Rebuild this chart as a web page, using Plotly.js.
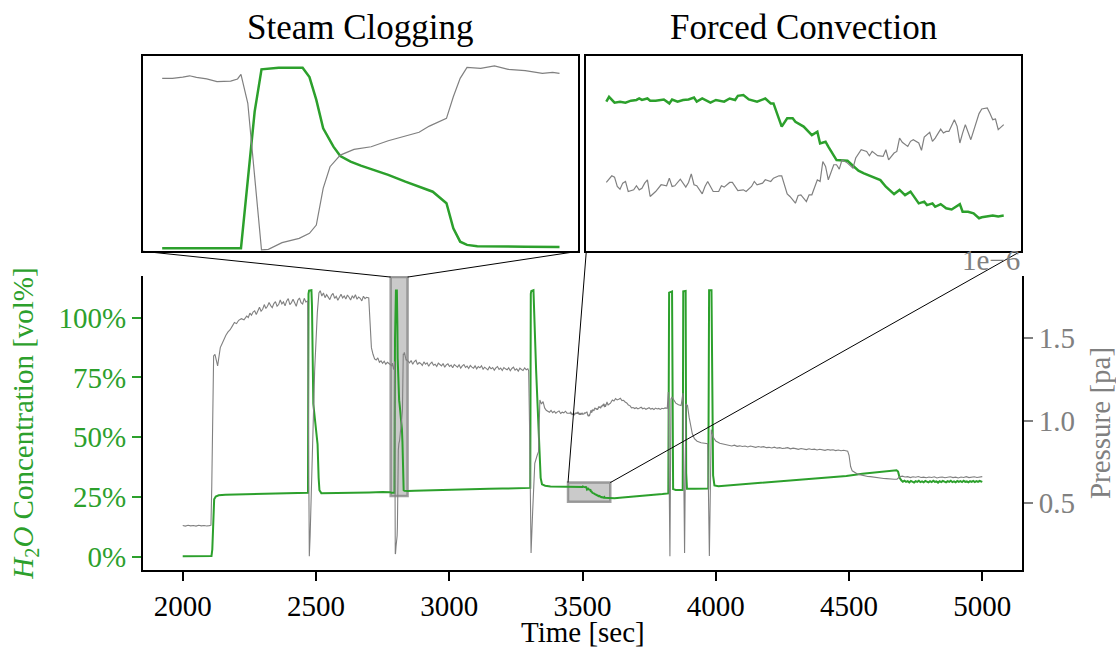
<!DOCTYPE html>
<html>
<head>
<meta charset="utf-8">
<script src="https://cdn.plot.ly/plotly-3.0.1.min.js"></script>
<style>
  html, body { margin: 0; padding: 0; background: #fff; }
  #chart { width: 1116px; height: 650px; }
</style>
</head>
<body>
<div id="chart"></div>
<script>
// Measurement log: [time in s, value]. H2O as volume fraction, pressure in units of 1e-6 Pa.
const h2oRun1 = [[2000,0.002],[2050,0.002],[2100,0.003],[2108,0.003],[2111,0.030],[2115,0.210],[2118,0.240],[2124,0.252],[2135,0.257],[2160,0.259],[2200,0.260],[2250,0.262],[2300,0.263],[2350,0.264],[2400,0.266],[2450,0.267],[2470,0.268],[2472,1.100],[2474,1.113],[2483,1.115],[2485,1.050],[2490,0.640],[2500,0.540],[2506,0.470],[2510,0.330],[2513,0.278],[2520,0.266],[2550,0.266],[2600,0.267],[2650,0.268],[2700,0.269],[2750,0.271],[2770,0.272],[2778,0.270]];
const h2oClogging = [[2783,0.268],[2787,0.268],[2791,0.267],[2794.5,0.268],[2796.5,0.908],[2797.5,1.106],[2800,1.114],[2803.5,1.114],[2804.5,1.070],[2805.5,0.963],[2806.5,0.830],[2808,0.744],[2809,0.700],[2810.5,0.674],[2812,0.655],[2814,0.635],[2816,0.612],[2818.5,0.580],[2820.5,0.556],[2822.5,0.533],[2824.5,0.479],[2825.5,0.362],[2826.5,0.299],[2827.5,0.284],[2829,0.278],[2832,0.276],[2836,0.275],[2841,0.274]];
const h2oRun2 = [[2845,0.275],[2870,0.276],[2900,0.277],[2950,0.278],[3000,0.280],[3050,0.281],[3090,0.282],[3095,0.285],[3100,0.283],[3150,0.284],[3200,0.285],[3250,0.287],[3304,0.288],[3306,1.100],[3308,1.112],[3316,1.115],[3320,0.950],[3326,0.780],[3332,0.620],[3338,0.430],[3343,0.330],[3348,0.303],[3360,0.297],[3380,0.294],[3420,0.293],[3445,0.292]];
const h2oConvection = [[3453,0.2912],[3454,0.2932],[3456,0.2908],[3458,0.2912],[3460,0.2908],[3462,0.2916],[3464,0.2919],[3465,0.2925],[3466,0.2919],[3468,0.2925],[3469,0.2916],[3471,0.2916],[3474,0.2921],[3476,0.2905],[3477,0.2921],[3479,0.2912],[3481,0.2919],[3483,0.2921],[3485,0.2929],[3486,0.2912],[3488,0.2925],[3491,0.2908],[3493,0.2919],[3496,0.2912],[3498,0.2925],[3500,0.2919],[3501,0.2936],[3503,0.2939],[3505,0.2921],[3508,0.2912],[3511,0.2925],[3513,0.2905],[3514,0.2905],[3517,0.2810],[3519,0.2844],[3521,0.2844],[3522,0.2830],[3525,0.2810],[3528,0.2775],[3530,0.2789],[3531,0.2741],[3533,0.2748],[3534,0.2728],[3537,0.2673],[3541,0.2670],[3544,0.2639],[3545,0.2630],[3547,0.2619],[3550,0.2605],[3553,0.2591],[3555,0.2564],[3558,0.2534],[3560,0.2551],[3562,0.2530],[3564,0.2544],[3567,0.2496],[3569,0.2503],[3570,0.2489],[3572,0.2496],[3573,0.2482],[3575,0.2493],[3577,0.2476],[3579,0.2471],[3582,0.2493],[3583,0.2462],[3585,0.2462],[3587,0.2455],[3589,0.2435],[3590,0.2439],[3592,0.2442],[3594,0.2446],[3596,0.2442],[3598,0.2446]];
const h2oRun3 = [[3605,0.2446],[3620,0.245],[3650,0.248],[3700,0.252],[3750,0.256],[3800,0.262],[3822,0.265],[3825,1.105],[3836,1.110],[3838,0.400],[3840,0.283],[3850,0.279],[3876,0.279],[3878,1.110],[3887,1.112],[3889,0.350],[3892,0.284],[3920,0.284],[3950,0.285],[3972,0.285],[3975,1.115],[3984,1.115],[3990,0.340],[3995,0.298],[4010,0.295],[4100,0.303],[4200,0.313],[4300,0.322],[4400,0.330],[4490,0.338],[4550,0.347],[4600,0.353],[4640,0.357],[4665,0.360],[4678,0.362],[4684,0.356],[4690,0.330],[4696,0.320],[4702,0.314],[4708,0.318],[4714,0.313],[4720,0.316],[4726,0.311],[4732,0.317],[4738,0.314],[4744,0.310],[4750,0.316],[4756,0.313],[4762,0.318],[4768,0.312],[4774,0.315],[4780,0.311],[4786,0.317],[4792,0.314],[4798,0.311],[4804,0.316],[4810,0.312],[4816,0.318],[4822,0.313],[4828,0.315],[4834,0.310],[4840,0.316],[4846,0.312],[4852,0.317],[4858,0.314],[4864,0.311],[4870,0.316],[4876,0.313],[4882,0.318],[4888,0.312],[4894,0.315],[4900,0.311],[4906,0.317],[4912,0.313],[4918,0.316],[4924,0.312],[4930,0.318],[4936,0.313],[4942,0.315],[4948,0.311],[4954,0.316],[4960,0.313],[4966,0.317],[4972,0.312],[4978,0.316],[4984,0.313],[4990,0.317],[4996,0.314],[5000,0.313]];

const pressureRun1 = [[2000,0.366],[2010,0.362],[2020,0.367],[2030,0.364],[2040,0.366],[2050,0.362],[2060,0.367],[2070,0.364],[2080,0.366],[2090,0.363],[2100,0.365],[2106,0.368],[2109,0.600],[2113,1.150],[2116,1.390],[2121,1.400],[2126,1.360],[2131,1.330],[2136,1.385],[2141,1.440],[2148,1.465],[2155,1.495],[2162,1.515],[2170,1.535],[2178,1.548],[2186,1.570],[2194,1.592],[2202,1.585],[2210,1.605],[2220,1.615],[2230,1.608],[2240,1.630],[2246,1.622],[2252,1.648],[2258,1.636],[2264,1.655],[2270,1.662],[2276,1.640],[2282,1.668],[2288,1.684],[2294,1.660],[2300,1.672],[2306,1.700],[2312,1.676],[2318,1.690],[2324,1.712],[2330,1.694],[2336,1.682],[2342,1.706],[2348,1.718],[2354,1.690],[2360,1.700],[2366,1.728],[2372,1.704],[2378,1.716],[2384,1.692],[2390,1.722],[2396,1.736],[2402,1.700],[2408,1.712],[2414,1.732],[2420,1.706],[2426,1.690],[2432,1.726],[2438,1.740],[2444,1.712],[2450,1.704],[2456,1.738],[2462,1.716],[2469,1.722],[2472,1.000],[2475,0.180],[2478,0.300],[2485,0.750],[2495,1.300],[2505,1.650],[2511,1.770],[2516,1.784],[2522,1.752],[2528,1.770],[2534,1.742],[2540,1.760],[2546,1.748],[2552,1.730],[2558,1.756],[2564,1.768],[2570,1.738],[2576,1.750],[2582,1.726],[2588,1.748],[2594,1.762],[2600,1.740],[2606,1.752],[2612,1.734],[2618,1.758],[2624,1.744],[2630,1.728],[2636,1.752],[2642,1.740],[2648,1.760],[2654,1.732],[2660,1.746],[2666,1.738],[2672,1.722],[2678,1.750],[2684,1.736],[2690,1.744],[2698,1.740],[2702,1.600],[2708,1.440],[2714,1.400],[2720,1.372],[2726,1.365],[2732,1.378],[2738,1.352],[2744,1.360],[2750,1.345],[2756,1.358],[2762,1.340],[2768,1.352],[2774,1.344],[2778,1.336]];
const pressureClogging = [[2783,1.330],[2784.5,1.330],[2786,1.338],[2787,1.347],[2788,1.336],[2789.5,1.326],[2791,1.308],[2793,1.312],[2794,1.326],[2794.5,1.357],[2795.5,1.165],[2797.5,0.194],[2798.5,0.198],[2800.5,0.242],[2803,0.271],[2804.5,0.304],[2805.5,0.359],[2806.5,0.602],[2807.5,0.745],[2809,0.822],[2811,0.860],[2813.5,0.877],[2816,0.917],[2817.5,0.937],[2820.5,0.973],[2822,1.014],[2824.5,1.065],[2825.5,1.208],[2826.5,1.330],[2827.5,1.403],[2829.5,1.396],[2831.5,1.412],[2833.5,1.390],[2836,1.381],[2838.5,1.363],[2840,1.370],[2841,1.363]];
const pressureRun2 = [[2845,1.360],[2851,1.348],[2857,1.362],[2863,1.340],[2869,1.356],[2875,1.364],[2881,1.338],[2887,1.350],[2893,1.344],[2899,1.332],[2905,1.354],[2911,1.340],[2917,1.348],[2923,1.328],[2929,1.344],[2935,1.352],[2941,1.334],[2947,1.340],[2953,1.326],[2959,1.346],[2965,1.338],[2971,1.330],[2977,1.344],[2983,1.322],[2989,1.336],[2995,1.342],[3001,1.326],[3007,1.334],[3013,1.318],[3019,1.338],[3025,1.330],[3031,1.322],[3037,1.336],[3043,1.316],[3049,1.330],[3055,1.338],[3061,1.320],[3067,1.328],[3073,1.314],[3079,1.332],[3085,1.322],[3091,1.316],[3097,1.330],[3103,1.312],[3109,1.326],[3115,1.318],[3121,1.330],[3127,1.310],[3133,1.322],[3139,1.316],[3145,1.306],[3151,1.324],[3157,1.312],[3163,1.320],[3169,1.304],[3175,1.318],[3181,1.326],[3187,1.308],[3193,1.316],[3199,1.302],[3205,1.320],[3211,1.312],[3217,1.306],[3223,1.318],[3229,1.300],[3235,1.314],[3241,1.322],[3247,1.304],[3253,1.312],[3259,1.298],[3265,1.316],[3271,1.308],[3277,1.302],[3283,1.318],[3289,1.306],[3295,1.312],[3298,1.300],[3302,0.900],[3307,0.200],[3313,0.450],[3321,0.742],[3330,0.790],[3335,0.812],[3340,1.124],[3346,1.100],[3352,1.114],[3358,1.076],[3364,1.062],[3370,1.058],[3376,1.050],[3382,1.061],[3388,1.047],[3394,1.056],[3400,1.044],[3406,1.052],[3412,1.058],[3418,1.042],[3424,1.050],[3430,1.046],[3436,1.056],[3442,1.044],[3447,1.046]];
const pressureConvection = [[3453,1.0443],[3455,1.0503],[3456,1.0491],[3457,1.0407],[3458,1.0382],[3459,1.0437],[3460,1.0452],[3461,1.0361],[3463,1.0376],[3464,1.0413],[3465,1.0376],[3466,1.0391],[3467,1.0437],[3468,1.0467],[3469,1.0316],[3471,1.0361],[3473,1.0422],[3475,1.0413],[3476,1.0482],[3477,1.0407],[3478,1.0413],[3480,1.0473],[3482,1.0401],[3483,1.0443],[3484,1.0521],[3485,1.0422],[3486,1.0413],[3488,1.0340],[3489,1.0407],[3490,1.0452],[3492,1.0361],[3494,1.0361],[3495,1.0413],[3496,1.0401],[3498,1.0443],[3499,1.0443],[3501,1.0370],[3503,1.0376],[3504,1.0361],[3506,1.0407],[3507,1.0452],[3508,1.0422],[3510,1.0437],[3511,1.0467],[3513,1.0452],[3514,1.0482],[3516,1.0503],[3517,1.0503],[3519,1.0340],[3520,1.0316],[3522,1.0255],[3523,1.0325],[3524,1.0331],[3526,1.0270],[3527,1.0331],[3528,1.0331],[3530,1.0467],[3531,1.0452],[3532,1.0633],[3533,1.0588],[3534,1.0467],[3536,1.0603],[3537,1.0603],[3538,1.0564],[3539,1.0648],[3541,1.0618],[3543,1.0573],[3544,1.0664],[3546,1.0739],[3548,1.0724],[3549,1.0685],[3550,1.0724],[3552,1.0685],[3554,1.0679],[3555,1.0739],[3556,1.0648],[3558,1.0709],[3559,1.0724],[3560,1.0845],[3561,1.0806],[3563,1.0769],[3564,1.0815],[3565,1.0830],[3567,1.0800],[3568,1.0733],[3569,1.0854],[3571,1.0896],[3572,1.0815],[3573,1.0845],[3575,1.0926],[3576,1.0890],[3577,1.0905],[3578,1.0905],[3580,1.1011],[3581,1.0951],[3582,1.0800],[3583,1.0890],[3584,1.0966],[3586,1.0830],[3588,1.0987],[3589,1.1066],[3590,1.1108],[3592,1.1117],[3593,1.1066],[3594,1.1011],[3595,1.1017],[3596,1.0920],[3598,1.0966]];
const pressureRun3 = [[3605,1.105],[3612,1.124],[3618,1.118],[3624,1.132],[3630,1.124],[3636,1.128],[3642,1.134],[3648,1.120],[3654,1.122],[3660,1.112],[3666,1.106],[3672,1.094],[3678,1.090],[3684,1.076],[3690,1.078],[3696,1.072],[3702,1.077],[3708,1.070],[3714,1.074],[3720,1.080],[3726,1.071],[3732,1.075],[3738,1.068],[3744,1.074],[3750,1.077],[3756,1.069],[3762,1.073],[3768,1.066],[3774,1.075],[3780,1.070],[3786,1.073],[3792,1.067],[3798,1.074],[3804,1.071],[3810,1.076],[3818,1.074],[3822,1.172],[3828,0.180],[3832,1.130],[3836,1.140],[3842,1.125],[3850,1.105],[3860,1.095],[3870,1.090],[3877,1.165],[3883,0.200],[3888,1.100],[3894,1.090],[3900,1.020],[3906,0.960],[3912,0.920],[3920,0.890],[3930,0.875],[3945,0.866],[3960,0.862],[3970,0.860],[3976,0.182],[3983,0.945],[3990,0.900],[4000,0.876],[4015,0.862],[4030,0.856],[4040,0.852],[4050,0.849],[4060,0.846],[4070,0.851],[4080,0.844],[4090,0.847],[4100,0.843],[4110,0.846],[4120,0.840],[4130,0.846],[4140,0.841],[4150,0.838],[4160,0.843],[4170,0.839],[4180,0.842],[4190,0.836],[4200,0.838],[4210,0.834],[4220,0.839],[4230,0.833],[4240,0.836],[4250,0.831],[4260,0.833],[4270,0.836],[4280,0.829],[4290,0.833],[4300,0.830],[4310,0.826],[4320,0.831],[4330,0.828],[4340,0.824],[4350,0.829],[4360,0.825],[4370,0.827],[4380,0.822],[4390,0.826],[4400,0.823],[4410,0.820],[4420,0.825],[4430,0.821],[4440,0.823],[4450,0.818],[4460,0.822],[4470,0.817],[4480,0.820],[4490,0.818],[4495,0.815],[4500,0.790],[4506,0.722],[4512,0.696],[4520,0.686],[4530,0.678],[4540,0.673],[4550,0.668],[4560,0.666],[4570,0.662],[4580,0.661],[4590,0.658],[4600,0.657],[4610,0.654],[4620,0.653],[4630,0.650],[4640,0.649],[4650,0.647],[4660,0.646],[4670,0.645],[4680,0.646],[4690,0.660],[4700,0.664],[4710,0.659],[4720,0.661],[4730,0.655],[4740,0.660],[4750,0.657],[4760,0.662],[4770,0.656],[4780,0.658],[4790,0.654],[4800,0.659],[4810,0.656],[4820,0.660],[4830,0.653],[4840,0.657],[4850,0.659],[4860,0.654],[4870,0.656],[4880,0.660],[4890,0.655],[4900,0.658],[4910,0.653],[4920,0.659],[4930,0.656],[4940,0.661],[4950,0.655],[4960,0.658],[4970,0.660],[4980,0.656],[4990,0.659],[5000,0.661]];

const timeTicks = [2000, 2500, 3000, 3500, 4000, 4500, 5000];
const h2oTicks = [0, 0.25, 0.5, 0.75, 1.0];
const pressureTicks = [0.5, 1.0, 1.5];
const pressureExponent = '1e\u22126';
const timeLabel = 'Time [sec]';
const zoomTitles = ['Steam Clogging', 'Forced Convection'];

// Full series assembled from the logged segments
const h2oLog = [].concat(h2oRun1, h2oClogging, h2oRun2, h2oConvection, h2oRun3);
const pressureLog = [].concat(pressureRun1, pressureClogging, pressureRun2, pressureConvection, pressureRun3);
const col = (rows, i) => rows.map(r => r[i]);

// ---------------- layout ----------------
const GREEN = '#2ca02c';
const GREY = '#808080';
const FONT = 'Liberation Serif, Times New Roman, serif';
const W = 1116, H = 650;
const M = {l: 143, r: 94, t: 0, b: 80};
const PW = W - M.l - M.r, PH = H - M.t - M.b;
const domX = (a, b) => [(a - M.l) / PW, (b - M.l) / PW];
const domY = (top, bottom) => [(H - M.b - bottom) / PH, (H - M.b - top) / PH];
const paperY = (px) => (H - M.b - px) / PH;

const mainX = domX(143, 1022), mainY = domY(276, 570);
const clogX = domX(143, 578), convX = domX(586.3, 1020.7), zoomY = domY(55.7, 251.3);

const timeRange = [1851, 5149];
const h2oRange = [-0.0556, 1.1745];
const pressureRange = [0.0972, 1.8726];
const clogView = {t: [2780.2, 2843.7], h2o: [0.254, 1.170], p: [0.185, 1.480]};
const convView = {t: [3445.7, 3604.2], h2o: [0.230, 0.310], p: [0.982, 1.159]};

const tickFont = (color) => ({family: FONT, size: 29, color: color});

const frameAxis = (domain, anchor, range) => ({
  domain: domain, anchor: anchor, range: range,
  showline: true, mirror: true, linecolor: '#000', linewidth: 2,
  ticks: '', showticklabels: false, showgrid: false, zeroline: false, fixedrange: true
});

const layout = {
  width: W, height: H,
  margin: M,
  paper_bgcolor: '#fff', plot_bgcolor: '#fff',
  showlegend: false,
  font: {family: FONT, size: 29, color: '#000'},
  xaxis: {
    domain: mainX, anchor: 'y', range: timeRange,
    tickvals: timeTicks, ticks: 'outside', ticklen: 9, tickwidth: 2, tickcolor: '#000',
    tickfont: tickFont('#000'),
    showline: true, linecolor: '#000', linewidth: 2, showgrid: false, zeroline: false
  },
  yaxis: {
    domain: mainY, anchor: 'x', range: h2oRange,
    tickvals: h2oTicks, tickformat: '.0%', ticks: 'outside', ticklen: 9, tickwidth: 2, tickcolor: GREEN,
    tickfont: tickFont(GREEN),
    showline: true, linecolor: '#000', linewidth: 2, showgrid: false, zeroline: false,
    title: {text: '<i>H</i><sub>2</sub><i>O</i> Concentration [vol%]', font: {family: FONT, size: 29, color: GREEN}, standoff: 16}
  },
  yaxis2: {
    overlaying: 'y', anchor: 'x', side: 'right', range: pressureRange,
    tickvals: pressureTicks, tickformat: '.1f', ticks: 'outside', ticklen: 9, tickwidth: 2, tickcolor: GREY,
    tickfont: tickFont(GREY),
    showline: true, linecolor: '#000', linewidth: 2, showgrid: false, zeroline: false,
    title: {text: 'Pressure [pa]', font: {family: FONT, size: 29, color: GREY}, standoff: 18}
  },
  xaxis3: frameAxis(clogX, 'y3', clogView.t),
  yaxis3: frameAxis(zoomY, 'x3', clogView.h2o),
  yaxis4: {overlaying: 'y3', anchor: 'x3', range: clogView.p, visible: false, fixedrange: true},
  xaxis5: frameAxis(convX, 'y5', convView.t),
  yaxis5: frameAxis(zoomY, 'x5', convView.h2o),
  yaxis6: {overlaying: 'y5', anchor: 'x5', range: convView.p, visible: false, fixedrange: true},
  shapes: [],
  annotations: []
};

// map a point of the main axes to paper coordinates
function mainPaper(t, v) {
  return [
    mainX[0] + (t - timeRange[0]) / (timeRange[1] - timeRange[0]) * (mainX[1] - mainX[0]),
    mainY[0] + (v - h2oRange[0]) / (h2oRange[1] - h2oRange[0]) * (mainY[1] - mainY[0])
  ];
}

// zoom indicators: shaded window on the main axes plus two connector lines to each panel
[[clogView, clogX], [convView, convX]].forEach(([view, dx]) => {
  layout.shapes.push({
    type: 'rect', xref: 'x', yref: 'y', layer: 'below',
    x0: view.t[0], x1: view.t[1], y0: view.h2o[0], y1: view.h2o[1],
    fillcolor: 'rgba(128,128,128,0.42)', line: {color: 'rgba(128,128,128,0.75)', width: 2.5}
  });
  const left = mainPaper(view.t[0], view.h2o[1]);
  const right = mainPaper(view.t[1], view.h2o[1]);
  layout.shapes.push({type: 'line', xref: 'paper', yref: 'paper', layer: 'above',
    x0: dx[0], y0: zoomY[0], x1: left[0], y1: left[1], line: {color: '#000', width: 1}});
  layout.shapes.push({type: 'line', xref: 'paper', yref: 'paper', layer: 'above',
    x0: dx[1], y0: zoomY[0], x1: right[0], y1: right[1], line: {color: '#000', width: 1}});
});

// panel titles
[clogX, convX].forEach((dx, i) => {
  layout.annotations.push({
    text: zoomTitles[i], xref: 'paper', yref: 'paper', showarrow: false,
    x: (dx[0] + dx[1]) / 2, y: paperY(27), xanchor: 'center', yanchor: 'middle',
    font: {family: FONT, size: 35, color: '#000'}
  });
});

// time axis label, resting on the bottom edge below the tick labels
layout.annotations.push({
  text: timeLabel, xref: 'paper', yref: 'paper', showarrow: false,
  x: (mainX[0] + mainX[1]) / 2, y: paperY(650), xanchor: 'center', yanchor: 'bottom',
  font: {family: FONT, size: 29, color: '#000'}
});

// offset text of the pressure axis
layout.annotations.push({
  text: pressureExponent, xref: 'paper', yref: 'paper', showarrow: false,
  x: mainX[1], y: paperY(260), xanchor: 'right', yanchor: 'middle',
  font: {family: FONT, size: 29, color: GREY}
});

const green = (rows, xa, ya, w) => ({x: col(rows, 0), y: col(rows, 1), xaxis: xa, yaxis: ya,
  type: 'scatter', mode: 'lines', line: {color: GREEN, width: w}, hoverinfo: 'skip'});
const grey = (rows, xa, ya, w) => ({x: col(rows, 0), y: col(rows, 1), xaxis: xa, yaxis: ya,
  type: 'scatter', mode: 'lines', line: {color: GREY, width: w}, hoverinfo: 'skip'});

const traces = [
  green(h2oLog, 'x', 'y', 2), grey(pressureLog, 'x', 'y2', 1.1),
  green(h2oClogging, 'x3', 'y3', 2.5), grey(pressureClogging, 'x3', 'y4', 1.2),
  green(h2oConvection, 'x5', 'y5', 2.5), grey(pressureConvection, 'x5', 'y6', 1.2)
];

Plotly.newPlot('chart', traces, layout, {displayModeBar: false, staticPlot: true});
</script>
</body>
</html>
